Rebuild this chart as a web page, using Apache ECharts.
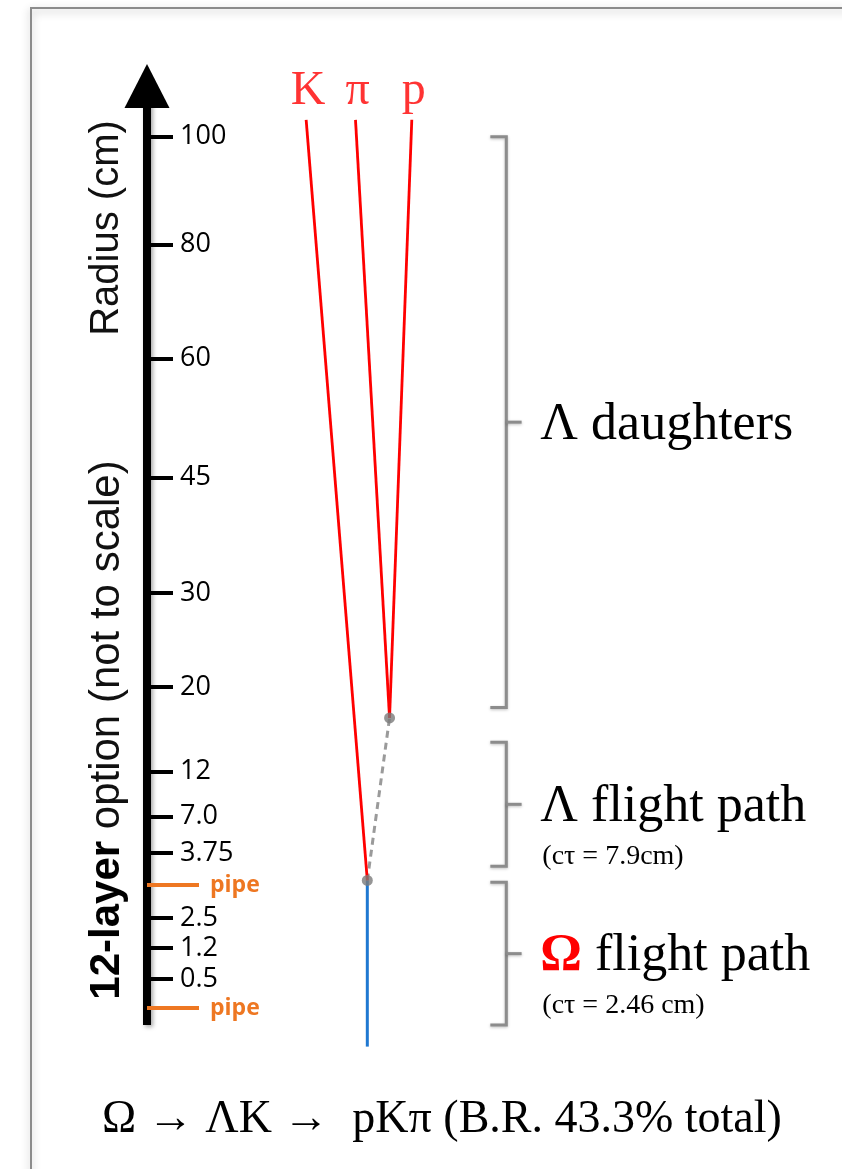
<!DOCTYPE html>
<html>
<head>
<meta charset="utf-8">
<script src="https://cdn.jsdelivr.net/npm/echarts@6/dist/echarts.min.js"></script>
<style>
  html, body { margin: 0; padding: 0; background: #fff; }
  #chart { width: 842px; height: 1169px; }
</style>
</head>
<body>
<div id="chart"></div>
<script>
// Radius axis (not to scale): layer radii in cm and their slot on the drawn axis (0-100)
const radiusLabels = ['0.5', '1.2', '2.5', '3.75', '7.0', '12', '20', '30', '45', '60', '80', '100'];
const radiusSlots  = [4.9, 8.2, 11.4, 18.3, 22.2, 27.0, 36.0, 46.0, 58.3, 71.0, 83.1, 94.6];
const pipeSlots    = [1.8, 14.9];
const pipeLabel    = 'pipe';

// Track end points: [transverse position, axis slot]
const omegaTrack    = [[31.7, -2.3], [31.7, 15.4]];
const lambdaTrack   = [[31.7, 15.4], [34.9, 32.7]];
const kaonTrack     = [[31.7, 15.4], [22.9, 96.4]];
const pionTrack     = [[34.9, 32.7], [30.0, 96.4]];
const protonTrack   = [[34.9, 32.7], [38.1, 96.4]];
const decayVertices = [[31.7, 15.4], [34.9, 32.7]];
const trackNames    = ['K', 'π', 'p'];

// Brackets grouping the decay stages: [lower slot, upper slot]
const bracketRanges = [[33.8, 94.6], [16.9, 30.1], [0, 15.2]];
const bracketTitles = ['{g|Λ} daughters', '{g|Λ} flight path', '{o|Ω} flight path'];
const bracketNotes  = ['', '(cτ = 7.9cm)', '(cτ = 2.46 cm)'];

const decayChain = 'Ω → ΛK →  pKπ (B.R. 43.3% total)';

const SERIF = '"Liberation Serif", "DejaVu Serif", serif';
const SANS  = '"Liberation Sans", Arial, sans-serif';
const RED = '#ff0000';
const ORANGE = '#ee7722';

function radiusLabelFor(v) {
  let best = 0;
  radiusSlots.forEach((s, i) => { if (Math.abs(s - v) < Math.abs(radiusSlots[best] - v)) best = i; });
  return radiusLabels[best];
}

function trackSeries(data, color, width, dash) {
  return {
    type: 'line',
    data: data,
    showSymbol: false,
    clip: false,
    silent: true,
    lineStyle: { color: color, width: width, type: dash || 'solid', cap: 'butt' },
    z: 3
  };
}

const chart = echarts.init(document.getElementById('chart'), null, { renderer: 'canvas' });

chart.setOption({
  backgroundColor: '#ffffff',
  animation: false,
  grid: { left: 147, top: 86, width: 700, height: 939 },
  xAxis: { type: 'value', min: 0, max: 100, show: false },
  yAxis: [
    {
      type: 'value', min: 0, max: 100, position: 'left',
      axisLine: {
        show: true,
        symbol: ['none', 'triangle'],
        symbolSize: [45, 44],
        lineStyle: { color: '#000', width: 8, cap: 'butt',
          shadowBlur: 4, shadowColor: 'rgba(0,0,0,0.35)', shadowOffsetX: 2, shadowOffsetY: 2 }
      },
      axisTick: {
        show: true, inside: true, length: 26, customValues: radiusSlots,
        lineStyle: { color: '#000', width: 4 }
      },
      axisLabel: {
        show: true, inside: true, margin: 33, customValues: radiusSlots,
        formatter: (v) => radiusLabelFor(v),
        color: '#000', fontSize: 27, fontFamily: '"Open Sans", sans-serif'
      },
      splitLine: { show: false }
    },
    {
      type: 'value', min: 0, max: 100, position: 'left',
      axisLine: { show: false },
      axisTick: {
        show: true, inside: true, length: 52, customValues: pipeSlots,
        lineStyle: { color: ORANGE, width: 4 }
      },
      axisLabel: {
        show: true, inside: true, margin: 63, customValues: pipeSlots,
        formatter: () => pipeLabel,
        color: ORANGE, fontSize: 23, fontWeight: 'bold', fontFamily: '"Open Sans", sans-serif'
      },
      splitLine: { show: false }
    }
  ],
  series: [
    trackSeries(omegaTrack, '#1f78d1', 3),
    trackSeries(lambdaTrack, '#9a9a9a', 3, [7, 5]),
    trackSeries(kaonTrack, RED, 2.8),
    trackSeries(pionTrack, RED, 2.8),
    trackSeries(protonTrack, RED, 2.8),
    {
      type: 'scatter',
      data: decayVertices,
      symbolSize: 11,
      itemStyle: { color: '#7a7a7a' },
      silent: true,
      z: 5
    },
    {
      // particle names above the outgoing tracks
      type: 'scatter',
      data: [kaonTrack[1], pionTrack[1], protonTrack[1]].map((p, i) => ({ value: p, name: trackNames[i] })),
      symbolSize: 0,
      silent: true,
      label: {
        show: true, position: 'top', distance: 4, offset: [2, 0],
        formatter: (p) => p.name,
        color: RED, fontSize: 48, fontFamily: SERIF
      }
    },
    {
      type: 'custom',
      data: bracketRanges,
      silent: true,
      clip: false,
      renderItem: function (params, api) {
        const i = params.dataIndex;
        const lo = api.value(0), hi = api.value(1);
        const mid = (lo + hi) / 2;
        const tl = api.coord([49.4, hi]);
        const tv = api.coord([51.7, hi]);
        const bv = api.coord([51.7, lo]);
        const bl = api.coord([49.4, lo]);
        const mv = api.coord([51.7, mid]);
        const mn = api.coord([53.9, mid]);
        const tx = api.coord([56.6, mid]);
        const stroke = { stroke: '#8c8c8c', lineWidth: 3, fill: null,
          shadowBlur: 3, shadowColor: 'rgba(0,0,0,0.25)', shadowOffsetY: 1 };
        const children = [
          { type: 'polyline', shape: { points: [tl, tv, bv, bl] }, style: stroke },
          { type: 'line', shape: { x1: mv[0], y1: mv[1], x2: mn[0], y2: mn[1] }, style: stroke },
          {
            type: 'text', x: tx[0], y: tx[1] + 3,
            style: {
              text: bracketTitles[i],
              font: '52px ' + SERIF, fill: '#000',
              textAlign: 'left', textVerticalAlign: 'middle',
              rich: {
                g: { font: '52px ' + SERIF, fill: '#000' },
                o: { font: 'bold 52px ' + SERIF, fill: RED }
              }
            }
          }
        ];
        if (bracketNotes[i]) {
          children.push({
            type: 'text', x: tx[0] + 2, y: tx[1] + 52,
            style: { text: bracketNotes[i], font: '28px ' + SERIF, fill: '#000',
              textAlign: 'left', textVerticalAlign: 'middle' }
          });
        }
        return { type: 'group', children: children };
      }
    }
  ],
  graphic: [
    {
      type: 'rect', silent: true, z: 0,
      shape: { x: 31, y: 8, width: 1000, height: 1300 },
      style: { fill: 'none', stroke: '#8c8c8c', lineWidth: 2,
        shadowBlur: 8, shadowColor: 'rgba(0,0,0,0.3)', shadowOffsetY: 3 }
    },
    {
      type: 'text', x: 107, y: 228, rotation: Math.PI / 2, silent: true,
      style: { text: 'Radius (cm)', font: '40px ' + SANS, fill: '#111',
        textAlign: 'center', textVerticalAlign: 'middle' }
    },
    {
      type: 'text', x: 107, y: 730, rotation: Math.PI / 2, silent: true,
      style: {
        text: '{b|12-layer} option (not to scale)', font: '42px ' + SANS, fill: '#111',
        textAlign: 'center', textVerticalAlign: 'middle',
        rich: { b: { font: 'bold 42px ' + SANS, fill: '#000' } }
      }
    },
    {
      type: 'text', x: 442, y: 1120, silent: true,
      style: { text: decayChain, font: '46px ' + SERIF, fill: '#000',
        textAlign: 'center', textVerticalAlign: 'middle' }
    }
  ]
});
</script>
</body>
</html>
